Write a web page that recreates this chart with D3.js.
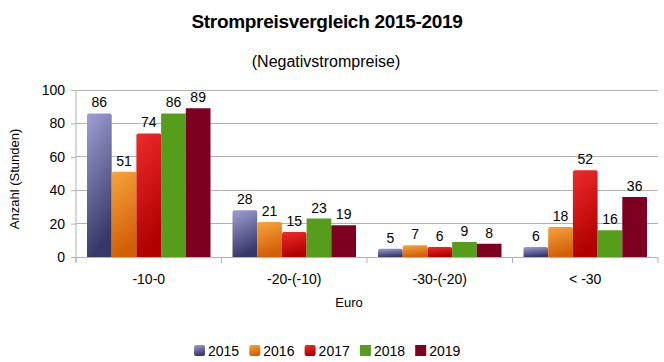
<!DOCTYPE html>
<html><head><meta charset="utf-8">
<script src="https://cdn.jsdelivr.net/npm/d3@7"></script>
<style>body{margin:0;background:#fff}svg{display:block;font-family:"Liberation Sans",Arial,sans-serif}</style>
</head><body><svg id="c" width="664" height="362"></svg>
<script>
const categories = ["-10-0", "-20-(-10)", "-30-(-20)", "< -30"];
const seriesNames = ["2015", "2016", "2017", "2018", "2019"];
const v2015 = [86, 28, 5, 6];
const v2016 = [51, 21, 7, 18];
const v2017 = [74, 15, 6, 52];
const v2018 = [86, 23, 9, 16];
const v2019 = [89, 19, 8, 36];
const yTicks = [0, 20, 40, 60, 80, 100];
const seriesValues = [v2015, v2016, v2017, v2018, v2019];
const colors = [["#a0a0d4", "#37376a"], ["#f7a53c", "#d25e08"], ["#ee2b2b", "#b00000"], ["#579d1c", "#579d1c"], ["#7e0021", "#7e0021"]];

const svg = d3.select("#c");
const pL = 76, pR = 658, pT = 90, pB = 257;
const x0 = d3.scaleBand().domain(categories).range([pL, pR]).padding(0);
const x1 = d3.scaleBand().domain(seriesNames).range([11, x0.bandwidth() - 11]).padding(0);
const y = d3.scaleLinear().domain([0, 100]).range([pB, pT]);

const defs = svg.append("defs");
colors.forEach((c, i) => {
  const g = defs.append("linearGradient").attr("id", "g" + i).attr("x1", 0).attr("y1", 0).attr("x2", 0.25).attr("y2", 1);
  g.append("stop").attr("offset", 0).attr("stop-color", c[0]);
  g.append("stop").attr("offset", 1).attr("stop-color", c[1]);
});

// gridlines
svg.append("g").selectAll("line").data(yTicks).join("line")
  .attr("x1", pL).attr("x2", pR).attr("y1", d => y(d)).attr("y2", d => y(d))
  .attr("stroke", "#b3b3b3").attr("stroke-width", 1).attr("shape-rendering", "crispEdges");

// y axis
const ya = svg.append("g").attr("transform", `translate(${pL},0)`)
  .call(d3.axisLeft(y).tickValues(yTicks).tickSize(5).tickPadding(6));
ya.select(".domain").attr("stroke", "#b3b3b3").attr("d", `M-0,${pB + 5}V${pT}`);
ya.selectAll(".tick line").attr("stroke", "#b3b3b3");
ya.selectAll("text").attr("font-size", 14).attr("fill", "#000").attr("font-family", "Liberation Sans, Arial, sans-serif");

// x axis
const xa = svg.append("g").attr("transform", `translate(0,${pB})`);
xa.append("line").attr("x1", pL).attr("x2", pR).attr("stroke", "#b3b3b3").attr("shape-rendering", "crispEdges");
const bounds = categories.map(c => x0(c)).concat([pR]);
xa.selectAll("line.t").data(bounds).join("line").attr("class", "t")
  .attr("x1", d => d).attr("x2", d => d).attr("y1", 0).attr("y2", 6).attr("stroke", "#b3b3b3");
xa.selectAll("text").data(categories).join("text")
  .attr("x", d => x0(d) + x0.bandwidth() / 2).attr("y", 27).attr("text-anchor", "middle")
  .attr("font-size", 14).text(d => d);

// bars
const groups = svg.append("g").selectAll("g").data(seriesNames).join("g");
groups.each(function (s, si) {
  const g = d3.select(this);
  const data = categories.map((c, ci) => ({ c, v: seriesValues[si][ci] }));
  g.selectAll("path").data(data).join("path")
    .attr("d", d => {
      const bx = x0(d.c) + x1(s), w = x1.bandwidth(), by = y(d.v), h = y(0) - y(d.v);
      const r = si < 3 ? Math.min(2, h) : 0;
      return `M${bx},${by + h}V${by + r}Q${bx},${by} ${bx + r},${by}H${bx + w - r}Q${bx + w},${by} ${bx + w},${by + r}V${by + h}Z`;
    })
    .attr("fill", `url(#g${si})`);
  g.selectAll("text").data(data).join("text")
    .attr("x", d => x0(d.c) + x1(s) + x1.bandwidth() / 2).attr("y", d => y(d.v) - 6)
    .attr("text-anchor", "middle").attr("font-size", 14).text(d => d.v);
});

// titles
svg.append("text").attr("x", 327).attr("y", 28).attr("text-anchor", "middle").attr("font-size", 19).attr("font-weight", "bold").attr("letter-spacing", -0.3).text("Strompreisvergleich 2015-2019");
svg.append("text").attr("x", 326).attr("y", 67).attr("text-anchor", "middle").attr("font-size", 16).text("(Negativstrompreise)");
svg.append("text").attr("transform", "translate(19,179) rotate(-90)").attr("text-anchor", "middle").attr("font-size", 13).text("Anzahl (Stunden)");
svg.append("text").attr("x", 349).attr("y", 307).attr("text-anchor", "middle").attr("font-size", 13).text("Euro");

// legend
const lg = svg.append("g").selectAll("g").data(seriesNames).join("g")
  .attr("transform", (d, i) => `translate(${194 + i * 55.3},345)`);
lg.append("rect").attr("width", 11).attr("height", 11).attr("rx", (d, i) => i < 3 ? 2 : 0).attr("fill", (d, i) => `url(#g${i})`);
lg.append("text").attr("x", 14).attr("y", 11).attr("font-size", 14).text(d => d);
</script></body></html>
